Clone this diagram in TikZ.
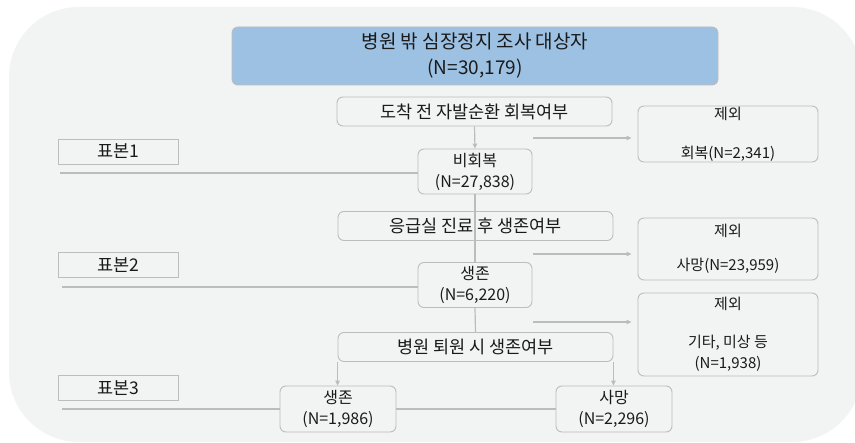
\documentclass[tikz,border=0pt]{standalone}
\usepackage{fontspec}
\setmainfont{Noto Sans CJK KR}
\usetikzlibrary{arrows.meta}
\definecolor{bgc}{HTML}{F2F3F3}
\definecolor{boxgray}{HTML}{BDBDBD}
\definecolor{linegray}{HTML}{BCBCBC}
\definecolor{topblue}{HTML}{9DC1E2}
\definecolor{txt}{HTML}{1A1A1A}
\begin{document}
\begin{tikzpicture}[x=1pt,y=-1pt,
  box/.style={draw=boxgray, rounded corners=6pt, line width=0.9pt, align=center, inner sep=0pt, text=txt},
  qbox/.style={box, minimum width=275pt, minimum height=29pt, font=\fontsize{17.5}{20}\selectfont},
  nbox/.style={box, minimum width=114pt, minimum height=44pt, font=\fontsize{16}{21}\selectfont},
  exbox/.style={box, minimum width=180pt, font=\fontsize{15}{21}\selectfont},
  sbox/.style={draw=boxgray, line width=0.9pt, inner sep=0pt, minimum width=120pt, minimum height=25pt, text=txt, font=\fontsize{17.5}{18}\selectfont},
  conn/.style={draw=linegray, line width=1.2pt},
  arr/.style={conn, -{Triangle[length=5pt,width=4.5pt]}}
]
\useasboundingbox (0,0) rectangle (855,443);
\fill[white] (0,0) rectangle (855,443);
\fill[bgc, rounded corners=70pt] (9,7) rectangle (862,442);

\node[box, fill=topblue, draw=boxgray, minimum width=486pt, minimum height=58pt, font=\fontsize{19}{26}\selectfont] (top) at (475,56) {병원 밖 심장정지 조사 대상자\\(N=30,179)};

\node[qbox] (q1) at (474.5,111.5) {도착 전 자발순환 회복여부};
\node[nbox, minimum height=45pt] (nr) at (475,171.5) {비회복\\(N=27,838)};
\node[exbox, minimum height=56pt] (ex1) at (728,134) {제외\\[18pt]회복(N=2,341)};
\node[sbox] (s1) at (118,151.5) {표본1};

\node[qbox, minimum height=29pt] (q2) at (475.5,226) {응급실 진료 후 생존여부};
\node[exbox, minimum height=62pt] (ex2) at (728,249) {제외\\[13pt]사망(N=23,959)};
\node[sbox] (s2) at (118,265) {표본2};
\node[nbox, minimum height=45pt] (sv) at (475,285) {생존\\(N=6,220)};

\node[exbox, minimum height=83pt] (ex3) at (728,334.5) {제외\\[17pt]기타, 미상 등\\(N=1,938)};
\node[qbox] (q3) at (475.5,347) {병원 퇴원 시 생존여부};
\node[sbox] (s3) at (118,388) {표본3};
\node[nbox, minimum width=116pt, minimum height=46pt] (sv3) at (338,409) {생존\\(N=1,986)};
\node[nbox, minimum width=116pt, minimum height=46pt] (dd) at (614,409) {사망\\(N=2,296)};

% vertical flow
\draw[arr] (q1.south) -- (nr.north);
\draw[conn] (nr.south) -- (sv.north);
\draw[conn] (sv.south) -- (q3.north);
\draw[arr] (q3.south west) -- (q3.south west |- sv3.north);
\draw[arr] (q3.south east) -- (q3.south east |- dd.north);

% exclusion arrows
\coordinate (e1) at (533,138);
\coordinate (e2) at (533,254);
\coordinate (e3) at (533,322);
\draw[arr] (e1) -- ([xshift=-6pt]ex1.west |- e1);
\draw[arr] (e2) -- ([xshift=-6pt]ex2.west |- e2);
\draw[arr] (e3) -- ([xshift=-6pt]ex3.west |- e3);

% sample lines
\coordinate (l1) at (60,173);
\coordinate (l2) at (62,287);
\coordinate (l3) at (62,409);
\draw[conn] (l1) -- (l1 -| nr.west);
\draw[conn] (l2) -- (l2 -| sv.west);
\draw[conn] (l3) -- (l3 -| sv3.west);
\draw[conn] (sv3.east |- l3) -- (dd.west |- l3);
\end{tikzpicture}
\end{document}
